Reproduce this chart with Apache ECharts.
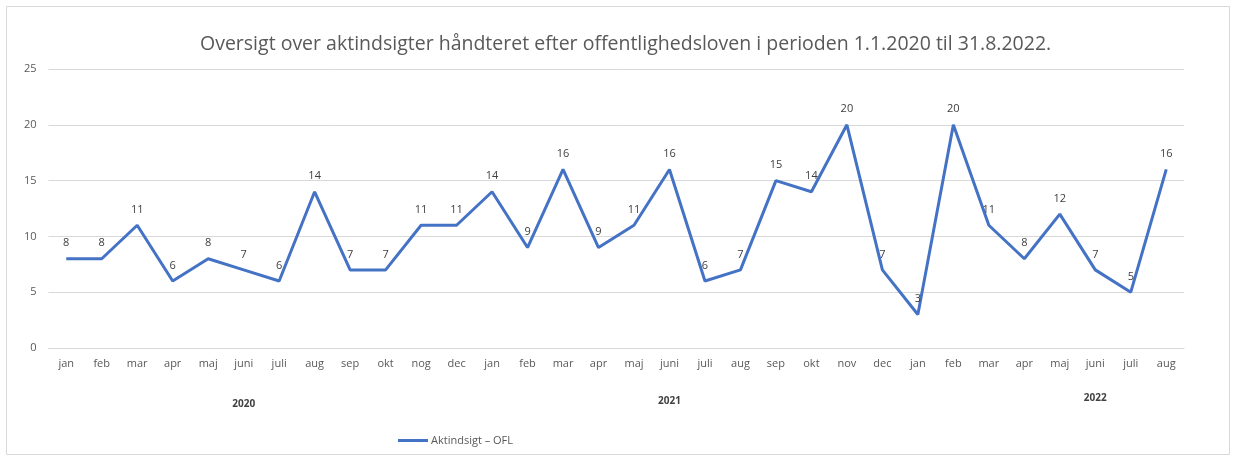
<!DOCTYPE html>
<html><head><meta charset="utf-8">
<script src="https://cdn.jsdelivr.net/npm/echarts@6/dist/echarts.min.js"></script>
<style>html,body{margin:0;padding:0;background:#fff}#c{width:1235px;height:460px}</style>
</head><body><div id="c"></div>
<script>
const months = ['jan','feb','mar','apr','maj','juni','juli','aug','sep','okt','nog','dec',
  'jan','feb','mar','apr','maj','juni','juli','aug','sep','okt','nov','dec',
  'jan','feb','mar','apr','maj','juni','juli','aug'];
const values = [8,8,11,6,8,7,6,14,7,7,11,11,
  14,9,16,9,11,16,6,7,15,14,20,7,
  3,20,11,8,12,7,5,16];
const yearLabels = ['','','','','','2020','','','','','','',
  '','','','','','2021','','','','','','',
  '','','','','','2022','',''];
const yTicks = [0,5,10,15,20,25];
const seriesName = 'Aktindsigt – OFL';
const titleText = 'Oversigt over aktindsigter håndteret efter offentlighedsloven i perioden 1.1.2020 til 31.8.2022.';

const chart = echarts.init(document.getElementById('c'));
const font = '"Open Sans", "Noto Sans", sans-serif';
chart.setOption({
  animation: false,
  textStyle: {fontFamily: font},
  title: {text: titleText, left: 195, top: 29,
    textStyle: {fontSize: 19.5, fontWeight: 'normal', color: '#595959', fontFamily: font}},
  graphic: [{type: 'rect', shape: {x: 6.5, y: 6.5, width: 1223, height: 448},
    style: {fill: 'none', stroke: '#d9d9d9', lineWidth: 1}, silent: true, z: -1}],
  legend: {left: 393, top: 430, itemWidth: 30, itemHeight: 3, itemGap: 0,
    icon: 'rect', data: [seriesName],
    textStyle: {fontSize: 11, color: '#595959', padding: [0,0,0,-2]}},
  grid: {left: 48.5, right: 51, top: 69, bottom: 112, containLabel: false},
  xAxis: [{type: 'category', data: months, boundaryGap: true,
    axisLine: {show: true, lineStyle: {color: '#d9d9d9', width: 1}},
    axisTick: {show: false},
    axisLabel: {interval: 0, fontSize: 11, color: '#595959', margin: 10}},
    {type: 'category', data: yearLabels, position: 'bottom', boundaryGap: true,
    axisLine: {show: false}, axisTick: {show: false},
    axisLabel: {interval: 0, margin: 45, fontSize: 10, fontWeight: 'bold', color: '#404040',
      formatter: function(v){ if(v==='2020') return '{a|'+v+'}'; if(v==='2021') return '{b|'+v+'}'; if(v==='2022') return '{c|'+v+'}'; return v; },
      rich: {a: {padding: [6,0,0,0], fontSize: 10, fontWeight: 'bold', color: '#404040'},
             b: {padding: [3,0,0,0], fontSize: 10, fontWeight: 'bold', color: '#404040'},
             c: {padding: [0,0,0,0], fontSize: 10, fontWeight: 'bold', color: '#404040'}}}}],
  yAxis: {type: 'value', min: yTicks[0], max: yTicks[yTicks.length-1], interval: 5,
    axisLine: {show: false}, axisTick: {show: false},
    axisLabel: {fontSize: 11, color: '#595959', margin: 12},
    splitLine: {lineStyle: {color: '#d9d9d9', width: 1}}},
  series: [{name: seriesName, type: 'line', data: values, xAxisIndex: 0,
    symbol: 'circle', symbolSize: 0, showSymbol: true,
    lineStyle: {color: '#4472C4', width: 3}, itemStyle: {color: '#4472C4'},
    label: {show: true, position: 'top', distance: 10, fontSize: 11, color: '#404040'}}]
});
</script></body></html>
